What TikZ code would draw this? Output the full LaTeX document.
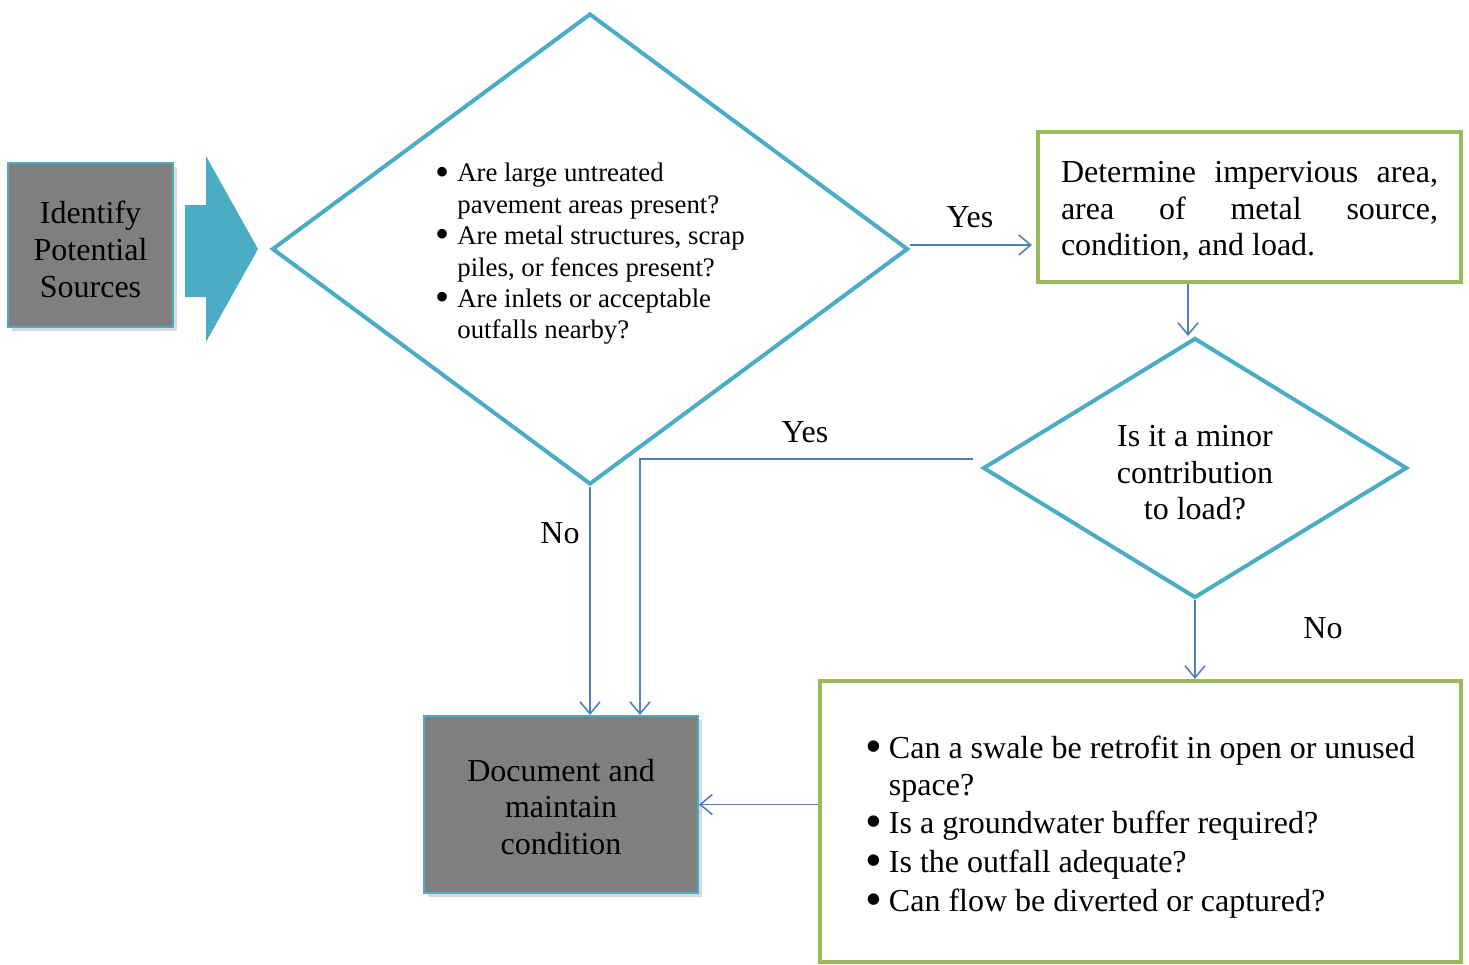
\documentclass[tikz,border=0pt]{standalone}
\usepackage{fontspec}
\usepackage{graphicx}
\setmainfont{Liberation Serif}
\usetikzlibrary{shapes.geometric,arrows.meta,shadows,calc}

\definecolor{flowteal}{HTML}{4BACC6}
\definecolor{flowgreen}{HTML}{9BBB59}
\definecolor{flowblue}{HTML}{4F81BD}
\definecolor{flowgray}{HTML}{7F7F7F}

% enlarged list bullet that does not change the line height
\newcommand{\bigbul}{\smash{\raisebox{-0.12em}{\scalebox{1.5}{\textbullet}}}}

\tikzset{
  txtbig/.style={font=\fontsize{16pt}{18.4pt}\selectfont},
  graybox/.style={rectangle, draw=flowteal, line width=1pt, fill=flowgray,
    inner sep=0pt,
    drop shadow={opacity=0.3, shadow xshift=2pt, shadow yshift=-2pt}},
  greenbox/.style={rectangle, draw=flowgreen, line width=2pt, fill=white, inner sep=0pt},
  decision/.style={diamond, draw=flowteal, line width=2pt, fill=white,
    inner sep=0pt, line join=miter},
  boxtext/.style={inner sep=0pt},
  conn/.style={draw=flowblue, line width=0.8pt,
    -{Straight Barb[length=6pt,width=10pt]}},
  lbl/.style={txtbig, inner sep=0pt},
}

\begin{document}
\begin{tikzpicture}[x=0.5pt,y=-0.5pt]
\useasboundingbox (0,0) rectangle (1469,965);

% start box and block arrow
\node[graybox, minimum width=82.5pt, minimum height=82pt] (src) at (90.5,245) {};
\node[boxtext, align=center, font=\fontsize{16pt}{18.5pt}\selectfont] (srcText)
  at (90.5,249) {Identify\\Potential\\Sources};
\fill[flowteal] (185,205) -- (206,205) -- (206,156) -- (258,249)
  -- (206,342) -- (206,297) -- (185,297) -- cycle;

% first decision
\node[decision, minimum width=318pt, minimum height=235.5pt, aspect=1.35] (q1) at (590,249) {};
\node[boxtext, align=left, font=\fontsize{13.4pt}{15.7pt}\selectfont] (q1Text) at (590,254)
  {\makebox[11pt][l]{\bigbul}Are large untreated\\
   \hspace*{11pt}pavement areas present?\\
   \makebox[11pt][l]{\bigbul}Are metal structures, scrap\\
   \hspace*{11pt}piles, or fences present?\\
   \makebox[11pt][l]{\bigbul}Are inlets or acceptable\\
   \hspace*{11pt}outfalls nearby?};

% assessment box
\node[greenbox, minimum width=211.5pt, minimum height=75pt] (det) at (1249.5,207) {};
\node[boxtext, text width=188.5pt, align=justify, txtbig] (detText) at (1249.5,211)
  {Determine impervious area,\linebreak area of metal source,\linebreak condition, and load.};

% second decision
\node[decision, minimum width=212pt, minimum height=130pt, aspect=1.63] (q2) at (1195,468) {};
\node[boxtext, align=center, font=\fontsize{16pt}{18.25pt}\selectfont] (q2Text)
  at (1195,473) {Is it a minor\\contribution\\to load?};

% end box
\node[graybox, minimum width=137pt, minimum height=88.5pt] (doc) at (561,804.5) {};
\node[boxtext, align=center, font=\fontsize{16pt}{18.25pt}\selectfont] (docText)
  at (561,807) {Document and\\maintain\\condition};

% retrofit questions
\node[greenbox, minimum width=320.5pt, minimum height=140.5pt] (chk) at (1140.5,821.5) {};
\node[boxtext, align=left, txtbig] (chkText) at (1140.5,827)
  {\makebox[11.5pt][l]{\bigbul}Can a swale be retrofit in open or unused\\
   \hspace*{11.5pt}space?\\[1pt]
   \makebox[11.5pt][l]{\bigbul}Is a groundwater buffer required?\\[1pt]
   \makebox[11.5pt][l]{\bigbul}Is the outfall adequate?\\[1pt]
   \makebox[11.5pt][l]{\bigbul}Can flow be diverted or captured?};

% connectors
\draw[conn] ([yshift=2pt]q1.east) -- ([xshift=-2pt,yshift=2pt]q1.east -| det.west);
\draw[conn] ([xshift=-3.5pt]q2.north |- det.south) -- ([xshift=-3.5pt]q2.north);
\draw[conn] (q2.south) -- (q2.south |- chk.north);
\draw[conn] ($(q2.west)+(-8,-9)$) -| ($(doc.north)+(79,0)$);
\draw[conn] (q1.south) -- (q1.south |- doc.north);
\draw[conn] (doc.east -| chk.west) -- (doc.east);

% branch labels
\node[lbl] (yes1) at (970,217) {Yes};
\node[lbl] (yes2) at (805,432) {Yes};
\node[lbl] (no1) at (560,533) {No};
\node[lbl] (no2) at (1323,628) {No};
\end{tikzpicture}
\end{document}
